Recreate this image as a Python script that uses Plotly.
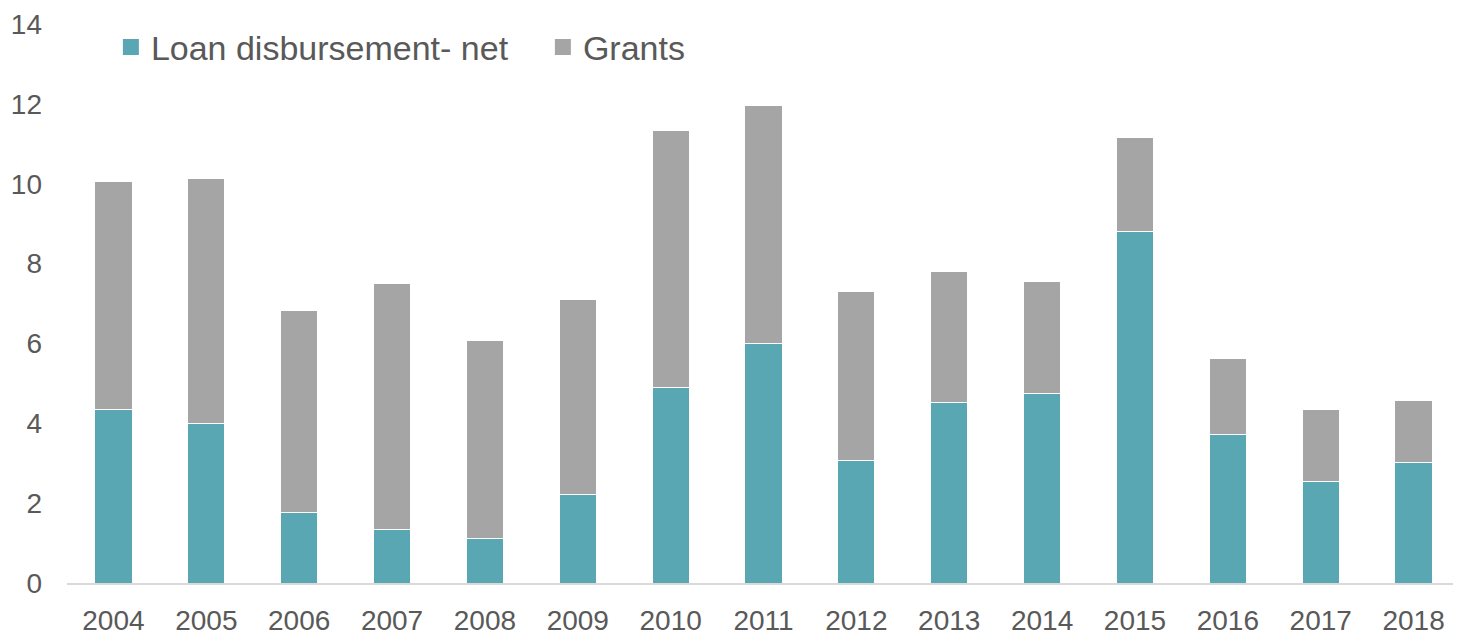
import plotly.graph_objects as go

years = ["2004", "2005", "2006", "2007", "2008", "2009", "2010", "2011",
         "2012", "2013", "2014", "2015", "2016", "2017", "2018"]
loan_net = [4.35, 4.0, 1.77, 1.34, 1.12, 2.21, 4.9, 6.0, 3.06, 4.53, 4.75, 8.81, 3.71, 2.54, 3.03]
totals = [10.05, 10.12, 6.82, 7.49, 6.07, 7.09, 11.34, 11.97, 7.29, 7.81, 7.56, 11.17, 5.62, 4.35, 4.58]
grants = [round(t - l, 2) for t, l in zip(totals, loan_net)]
series_names = ["Loan disbursement- net", "Grants"]
series_colors = ["#5AA7B4", "#A5A5A5"]

font_family = "Liberation Sans, Arial, sans-serif"
text_color = "#595959"

fig = go.Figure()
for vals, name, color in zip([loan_net, grants], series_names, series_colors):
    fig.add_trace(go.Bar(x=years, y=vals, name=name, showlegend=False,
                         marker=dict(color=color, line=dict(color="white", width=1))))
# legend entries with larger square swatches
for name, color in zip(series_names, series_colors):
    fig.add_trace(go.Scatter(x=[None], y=[None], mode="markers", name=name,
                             marker=dict(symbol="square", size=18, color=color)))

fig.update_layout(
    barmode="stack",
    bargap=0.6,
    width=1453, height=629,
    margin=dict(l=59, r=1, t=14, b=52),
    paper_bgcolor="white", plot_bgcolor="white",
    font=dict(family=font_family, color=text_color, size=28),
    legend=dict(orientation="h", x=0.0315, y=0.958, xanchor="left", yanchor="middle",
                font=dict(size=34, color=text_color), bgcolor="rgba(0,0,0,0)",
                itemwidth=30, traceorder="normal", entrywidth=387, entrywidthmode="pixels"),
    xaxis=dict(showline=True, linecolor="#D9D9D9", linewidth=2, ticks="",
               tickfont=dict(size=28, color=text_color), showgrid=False,
               ticklabelstandoff=11),
    yaxis=dict(range=[0, 14], dtick=2, showgrid=False, zeroline=False, showline=False,
               tickfont=dict(size=28, color=text_color), ticks="", ticklabelstandoff=24,
               ticklabeloverflow="allow"),
)

fig.write_html("out.html")
